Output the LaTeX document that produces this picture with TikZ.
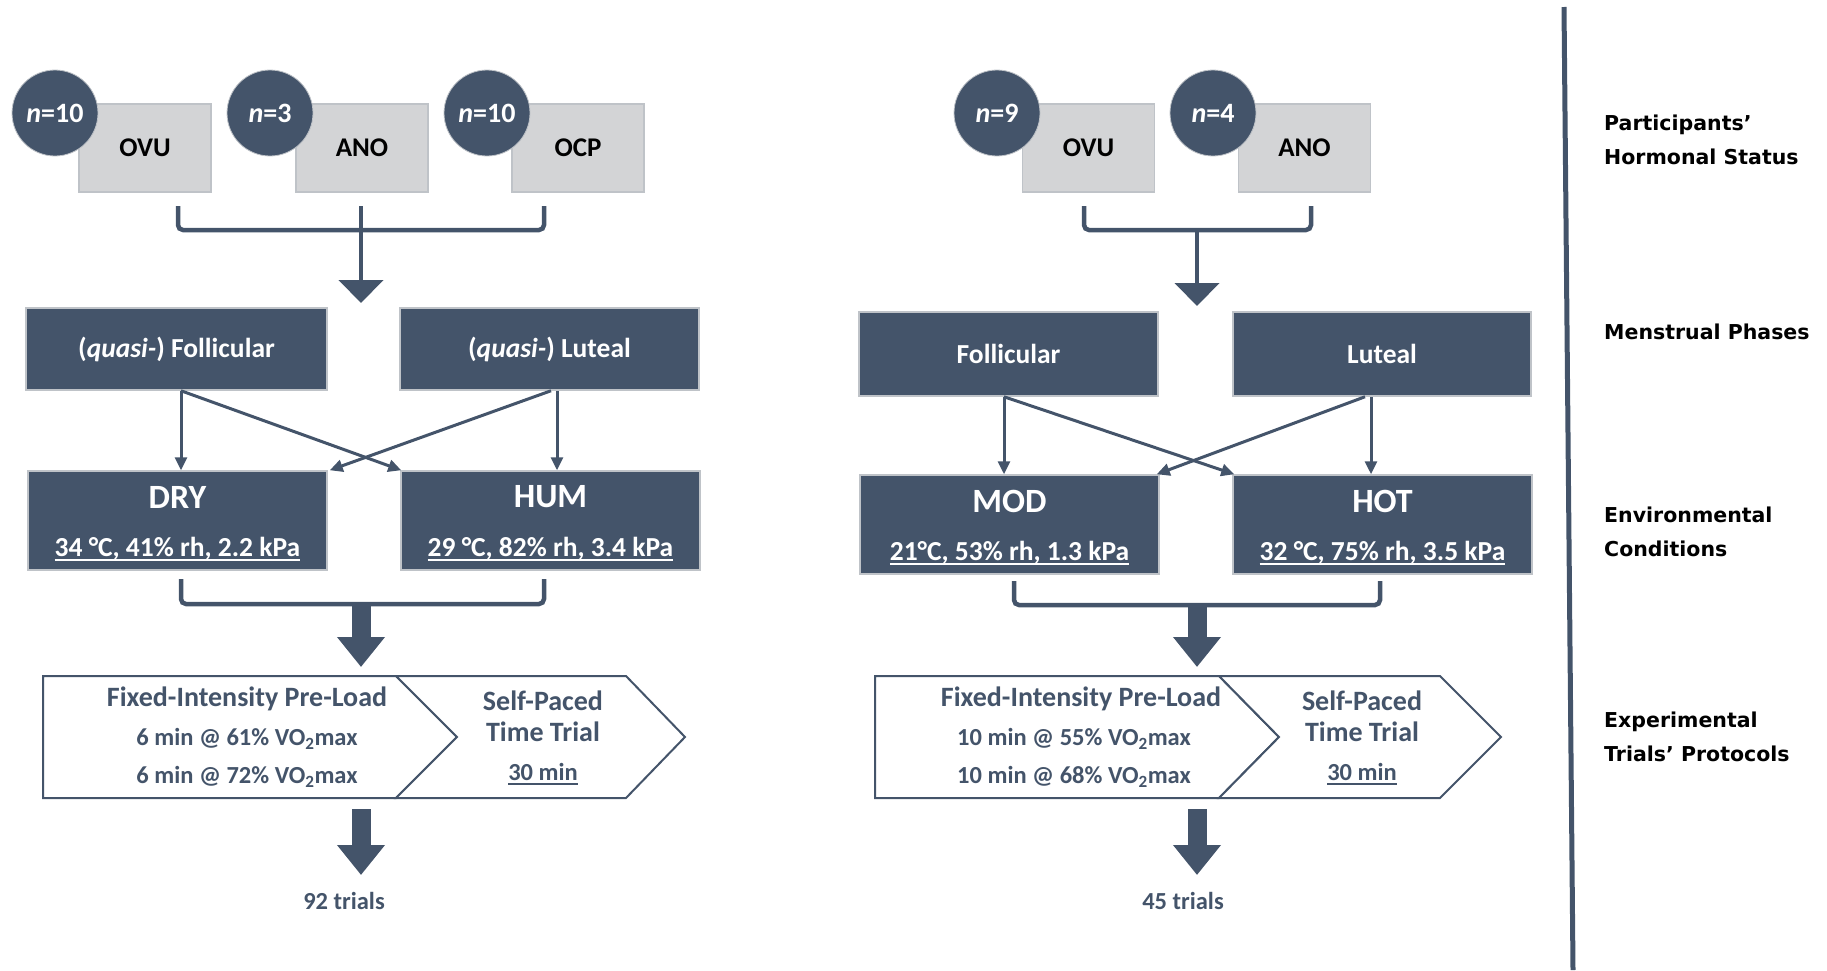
\documentclass[tikz,border=0pt]{standalone}
\usepackage{fontspec}
\setmainfont{Carlito}
\newfontfamily\dejavu{DejaVu Sans}
\usetikzlibrary{arrows.meta}
\definecolor{slate}{HTML}{44546A}
\definecolor{lgray}{HTML}{D3D4D6}
\definecolor{edgec}{HTML}{BFC3C8}
\newcommand\myul[1]{\setbox0\hbox{#1}\rlap{\rule[-4pt]{\wd0}{1.8pt}}\box0}
\begin{document}
\begin{tikzpicture}[x=1pt,y=-1pt,
  graybox/.style={draw=edgec, line width=1.3, fill=lgray, minimum width=132, minimum height=88, inner sep=0, font=\fontsize{27}{32}\selectfont\bfseries, text=black},
  ncirc/.style={circle, fill=slate, draw=edgec, line width=0.8, minimum size=86, inner sep=0, text=white, font=\fontsize{28}{32}\selectfont\bfseries},
  darkbox/.style={draw=edgec, line width=1.5, fill=slate, inner sep=0},
  wtxt/.style={text=white, inner sep=0, font=\fontsize{27.5}{32}\selectfont\bfseries},
  ttl/.style={text=white, inner sep=0, font=\fontsize{34}{40}\selectfont\bfseries},
  ptxt/.style={text=slate, inner sep=0, font=\fontsize{28}{32}\selectfont\bfseries},
  psmall/.style={text=slate, inner sep=0, font=\fontsize{24.5}{30}\selectfont\bfseries},
  bracket/.style={draw=slate, line width=4.5, rounded corners=5},
  stemarr/.style={draw=slate, line width=4.5, -{Triangle[length=23,width=44]}},
  thinarr/.style={draw=slate, line width=3, -{Triangle[length=13,width=12]}},
  bigarr/.style={draw=slate, line width=19, -{Triangle[length=30,width=46]}},
  proto/.style={draw=slate, line width=2, fill=white, line join=miter},
  sidelab/.style={anchor=west, align=left, inner sep=0, text=black, font=\dejavu\fontsize{20.5}{34}\selectfont\bfseries}
]
\useasboundingbox (0,0) rectangle (1827,970);

% ---------------- LEFT COLUMN ----------------
\node[graybox] (ovu1) at (145,148) {OVU};
\node[graybox] (ano1) at (362,148) {ANO};
\node[graybox] (ocp1) at (578,148) {OCP};
\node[ncirc] (c1) at (55,113) {\textit{n}=10};
\node[ncirc] (c2) at (270,113) {\textit{n}=3};
\node[ncirc] (c3) at (487,113) {\textit{n}=10};

\coordinate (b1l) at (178,206);
\coordinate (b1m) at (361,206);
\coordinate (b1r) at (544,206);
\coordinate (b1c) at (361,230);
\coordinate (b1tip) at (361,303);
\draw[bracket] (b1l) -- (178,230) -- (544,230) -- (b1r);
\draw[bracket] (b1m) -- (b1c);
\draw[stemarr] (b1c) -- (b1tip);

\node[darkbox, minimum width=301, minimum height=82] (fol1) at (176.5,349) {};
\node[wtxt] at (fol1.center) {(\textit{quasi-}) Follicular};
\node[darkbox, minimum width=299, minimum height=82] (lut1) at (549.5,349) {};
\node[wtxt] at (lut1.center) {(\textit{quasi-}) Luteal};

\node[darkbox, minimum width=299, minimum height=99] (dry) at (177.5,520.5) {};
\node[ttl] at (177.5,497) {DRY};
\node[wtxt] at (177.5,549) {\myul{34 °C, 41\% rh, 2.2 kPa}};
\node[darkbox, minimum width=299, minimum height=99] (hum) at (550.5,520.5) {};
\node[ttl] at (550.5,497) {HUM};
\node[wtxt] at (550.5,549) {\myul{29 °C, 82\% rh, 3.4 kPa}};

\draw[thinarr] ([xshift=4.5]fol1.south) -- ([xshift=3.5]dry.north);
\draw[thinarr] ([xshift=4.5]fol1.south) -- ([xshift=1]hum.north west);
\draw[thinarr] ([xshift=7.5]lut1.south) -- ([xshift=6.5]hum.north);
\draw[thinarr] ([xshift=1.5]lut1.south) -- ([xshift=2]dry.north east);

\coordinate (b2l) at (181,579);
\coordinate (b2r) at (544,579);
\coordinate (b2c) at (361,604);
\draw[bracket] (b2l) -- (181,604) -- (544,604) -- (b2r);
\coordinate (p1top) at (361,667);
\draw[bigarr] (b2c) -- (p1top);

\draw[proto] (43,676) -- (396,676) -- (457,737) -- (396,798) -- (43,798) -- cycle;
\draw[proto] (396,676) -- (626,676) -- (685,737) -- (626,798) -- (396,798) -- (457,737) -- cycle;
\node[ptxt] (fi1) at (247,699) {Fixed-Intensity Pre-Load};
\node[psmall] at (247,739) {6 min @ 61\% VO\textsubscript{2}max};
\node[psmall] at (247,777) {6 min @ 72\% VO\textsubscript{2}max};
\node[ptxt] at (543,701) {Self-Paced};
\node[ptxt] at (543,732) {Time Trial};
\node[psmall] at (543,774) {\myul{30 min}};

\coordinate (a1s) at (361,809);
\coordinate (a1e) at (361,875);
\draw[bigarr] (a1s) -- (a1e);
\node[psmall] (t1) at (344,901) {92 trials};

% ---------------- RIGHT COLUMN ----------------
\node[graybox] (ovu2) at (1088.5,148) {OVU};
\node[graybox] (ano2) at (1304.5,148) {ANO};
\node[ncirc] (c4) at (997,113) {\textit{n}=9};
\node[ncirc] (c5) at (1213,113) {\textit{n}=4};

\coordinate (b3l) at (1084,206);
\coordinate (b3r) at (1311,206);
\coordinate (b3c) at (1197,230);
\coordinate (b3tip) at (1197,306);
\draw[bracket] (b3l) -- (1084,230) -- (1311,230) -- (b3r);
\draw[stemarr] (b3c) -- (b3tip);

\node[darkbox, minimum width=299, minimum height=84] (fol2) at (1008.5,354) {};
\node[wtxt] at (fol2.center) {Follicular};
\node[darkbox, minimum width=298, minimum height=84] (lut2) at (1382,354) {};
\node[wtxt] at (lut2.center) {Luteal};

\node[darkbox, minimum width=299, minimum height=99] (mod) at (1009.5,524.5) {};
\node[ttl] at (1009.5,501) {MOD};
\node[wtxt] at (1009.5,553) {\myul{21°C, 53\% rh, 1.3 kPa}};
\node[darkbox, minimum width=299, minimum height=99] (hot) at (1382.5,524.5) {};
\node[ttl] at (1382.5,501) {HOT};
\node[wtxt] at (1382.5,553) {\myul{32 °C, 75\% rh, 3.5 kPa}};

\draw[thinarr] ([xshift=-4.5]fol2.south) -- ([xshift=-5.5]mod.north);
\draw[thinarr] ([xshift=-4.5]fol2.south) -- ([xshift=2]hot.north west);
\draw[thinarr] ([xshift=-11]lut2.south) -- ([xshift=-11.5]hot.north);
\draw[thinarr] ([xshift=-17]lut2.south) -- ([xshift=-3]mod.north east);

\coordinate (b4l) at (1014,581);
\coordinate (b4r) at (1380,581);
\coordinate (b4c) at (1197,605);
\draw[bracket] (b4l) -- (1014,605) -- (1380,605) -- (b4r);
\coordinate (p2top) at (1197,667);
\draw[bigarr] (b4c) -- (p2top);

\draw[proto] (875,676) -- (1219,676) -- (1279,737) -- (1219,798) -- (875,798) -- cycle;
\draw[proto] (1219,676) -- (1440,676) -- (1501,737) -- (1440,798) -- (1219,798) -- (1279,737) -- cycle;
\node[ptxt] (fi2) at (1081,699) {Fixed-Intensity Pre-Load};
\node[psmall] at (1074,739) {10 min @ 55\% VO\textsubscript{2}max};
\node[psmall] at (1074,777) {10 min @ 68\% VO\textsubscript{2}max};
\node[ptxt] at (1362,701) {Self-Paced};
\node[ptxt] at (1362,732) {Time Trial};
\node[psmall] at (1362,774) {\myul{30 min}};

\coordinate (a2s) at (1197,809);
\coordinate (a2e) at (1197,875);
\draw[bigarr] (a2s) -- (a2e);
\node[psmall] (t2) at (1183,901) {45 trials};

% ---------------- DIVIDER AND SIDE LABELS ----------------
\coordinate (dtop) at (1564,7);
\coordinate (dbot) at (1573,970);
\draw[slate, line width=5] (dtop) -- (dbot);

\node[sidelab] (l1) at (1604,140) {Participants’\\Hormonal Status};
\node[sidelab] (l2) at (1604,332) {Menstrual Phases};
\node[sidelab] (l3) at (1604,532) {Environmental\\Conditions};
\node[sidelab] (l4) at (1604,737) {Experimental\\Trials’ Protocols};
\end{tikzpicture}
\end{document}
